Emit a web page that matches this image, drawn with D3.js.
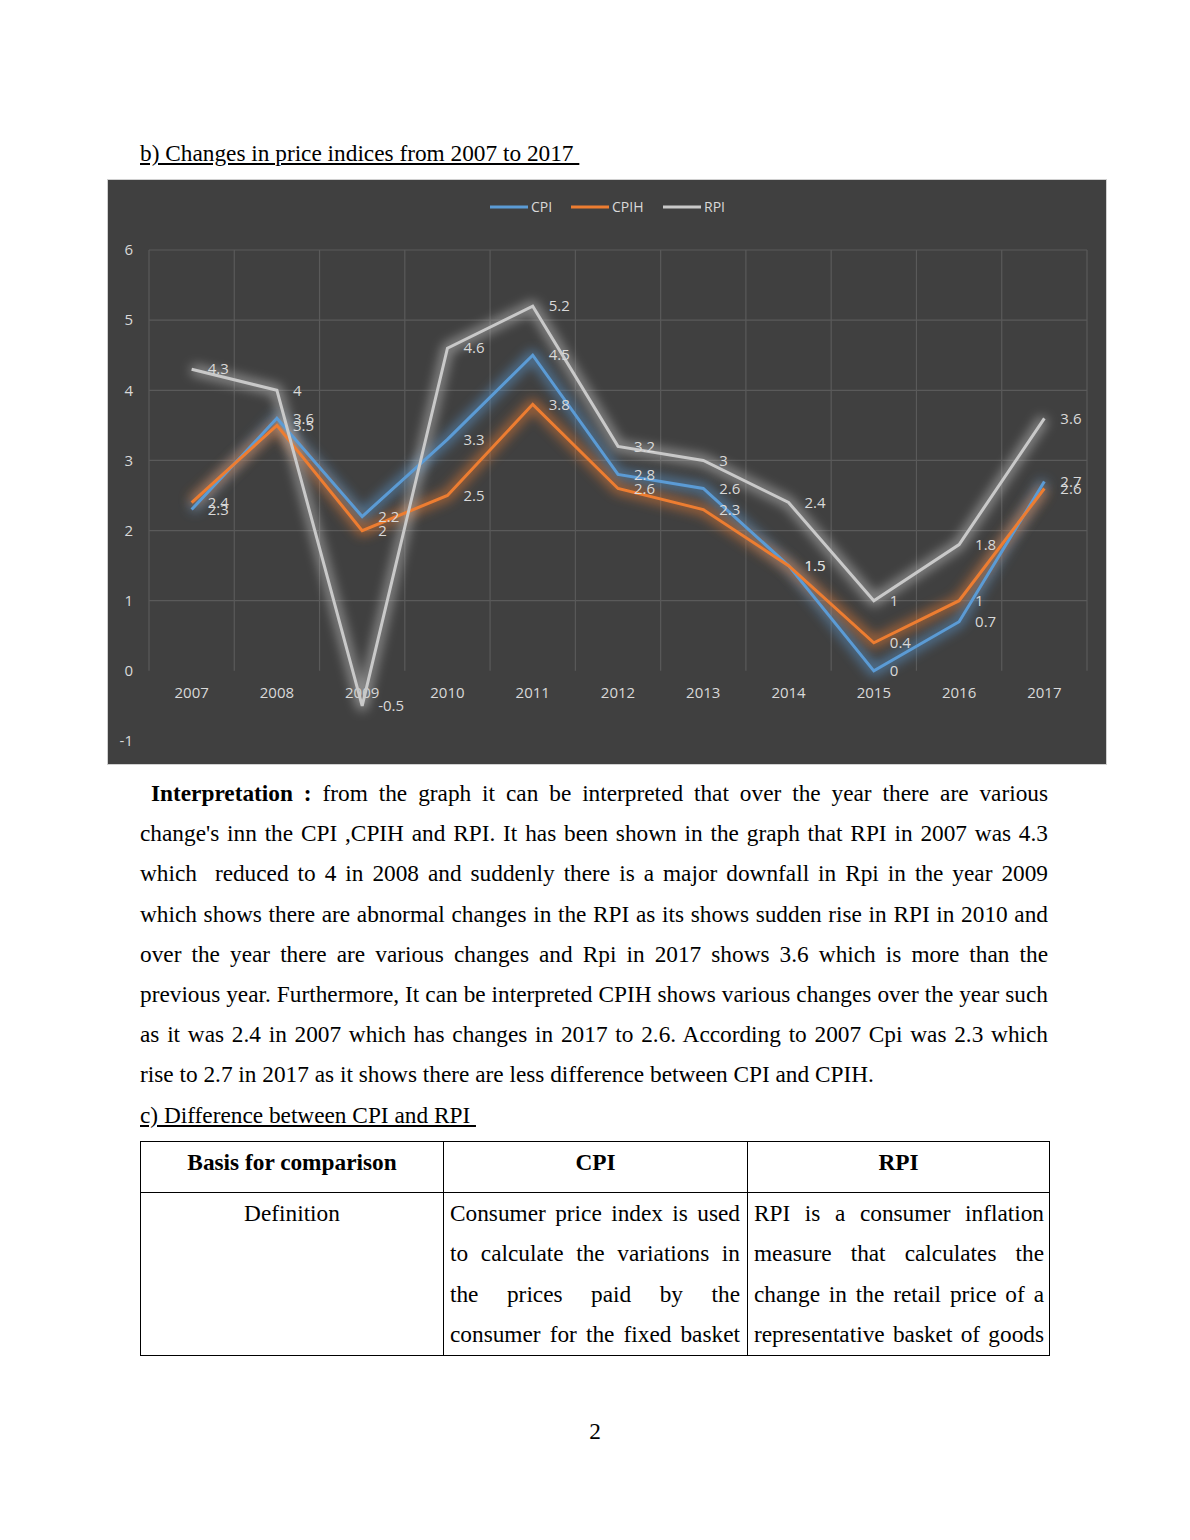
<!DOCTYPE html>
<html>
<head>
<meta charset="utf-8">
<script src="https://cdn.jsdelivr.net/npm/d3@7"></script>
<style>
  body { margin: 0; background: #fff; }
  #page { position: relative; width: 1190px; height: 1540px; font-family: "Liberation Serif", "Times New Roman", serif; color: #000; }
  .heading { position: absolute; left: 140px; font-size: 23.3px; line-height: 26px; text-decoration: underline; white-space: pre; }
  #chart { position: absolute; left: 107px; top: 179px; }
  .para { position: absolute; left: 140px; width: 908px; font-size: 23.3px; }
  .para div { height: 40.2px; line-height: 40.2px; text-align: justify; text-align-last: justify; white-space: pre-wrap; }
  .para div.last { text-align-last: left; }
  table { position: absolute; left: 140px; top: 1141px; width: 906px; table-layout: fixed; border-collapse: collapse; font-size: 23.3px; }
  td, th { border: 1px solid #000; padding: 0; vertical-align: top; overflow: visible; }
  th { height: 50px; line-height: 40px; }
  .cell { width: 290px; margin-left: 6px; }
  .cell div { line-height: 40.4px; height: 40.4px; text-align: justify; text-align-last: justify; white-space: nowrap; }
  #pagenum { position: absolute; left: 0; width: 1190px; top: 1418px; line-height: 26px; text-align: center; font-size: 23.3px; }
</style>
</head>
<body>
<div id="page">
  <div class="heading" style="top:140px;">b) Changes in price indices from 2007 to 2017 </div>
  <svg id="chart"></svg>
  <div class="para" id="para" style="top:773px;"></div>
  <div class="heading" style="top:1102px;">c) Difference between CPI and RPI </div>
  <table id="tbl"></table>
  <div id="pagenum">2</div>
</div>
<script>
// chart values
var years = ["2007", "2008", "2009", "2010", "2011", "2012", "2013", "2014", "2015", "2016", "2017"];
var cpi = [2.3, 3.6, 2.2, 3.3, 4.5, 2.8, 2.6, 1.5, 0, 0.7, 2.7];
var cpih = [2.4, 3.5, 2, 2.5, 3.8, 2.6, 2.3, 1.5, 0.4, 1, 2.6];
var rpi = [4.3, 4, -0.5, 4.6, 5.2, 3.2, 3, 2.4, 1, 1.8, 3.6];
var yTicks = [-1, 0, 1, 2, 3, 4, 5, 6];

var seriesNames = ["CPI", "CPIH", "RPI"];
var seriesColors = ["#5b9bd5", "#ed7d31", "#c9c9c9"];

var width = 1000, height = 586;
var labelFont = "'Open Sans', 'Noto Sans', sans-serif";
var svg = d3.select("#chart").attr("width", width).attr("height", height);

svg.append("rect")
  .attr("x", 0.5).attr("y", 0.5)
  .attr("width", width - 1).attr("height", height - 1)
  .attr("fill", "#404040")
  .attr("stroke", "#d0d0d0");

// soft glow behind each line
var defs = svg.append("defs");
defs.append("filter").attr("id", "glow")
  .attr("x", "-20%").attr("y", "-20%").attr("width", "140%").attr("height", "140%")
  .append("feGaussianBlur").attr("stdDeviation", 6);

var x = d3.scaleBand().domain(years).range([42, 980]);
var y = d3.scaleLinear().domain([-1, 6]).range([562, 71]);
var cx = function (d, i) { return x(years[i]) + x.bandwidth() / 2; };

// gridlines
var grid = svg.append("g").attr("stroke", "#5a5a5a").attr("stroke-width", 1.2);
grid.selectAll("line.h")
  .data(yTicks.filter(function (t) { return t >= 1; }))
  .enter().append("line")
  .attr("x1", 42).attr("x2", 980)
  .attr("y1", function (d) { return y(d); })
  .attr("y2", function (d) { return y(d); });
grid.selectAll("line.v")
  .data(d3.range(years.length + 1))
  .enter().append("line")
  .attr("x1", function (i) { return 42 + i * x.step(); })
  .attr("x2", function (i) { return 42 + i * x.step(); })
  .attr("y1", y(6)).attr("y2", y(0));

// axes
var yAxis = svg.append("g")
  .attr("transform", "translate(26,0)")
  .call(d3.axisLeft(y).tickValues(yTicks).tickSize(0).tickPadding(0)
    .tickFormat(function (d) { return String(d); }));
yAxis.select(".domain").remove();

var xAxis = svg.append("g")
  .attr("transform", "translate(0," + y(0) + ")")
  .call(d3.axisBottom(x).tickSize(0).tickPadding(17));
xAxis.select(".domain").remove();

svg.selectAll(".tick text")
  .attr("fill", "#d9d9d9")
  .style("font-family", labelFont)
  .style("font-size", "15px");

// lines
var series = [cpi, cpih, rpi];
var line = d3.line().x(cx).y(function (d) { return y(d); });

series.forEach(function (vals, k) {
  svg.append("path")
    .datum(vals)
    .attr("d", line)
    .attr("fill", "none")
    .attr("stroke", seriesColors[k])
    .attr("stroke-width", 10)
    .attr("stroke-linejoin", "round")
    .attr("opacity", 0.6)
    .attr("filter", "url(#glow)");
});
series.forEach(function (vals, k) {
  svg.append("path")
    .datum(vals)
    .attr("d", line)
    .attr("fill", "none")
    .attr("stroke", seriesColors[k])
    .attr("stroke-width", 3);
});

// data labels
series.forEach(function (vals) {
  svg.append("g").selectAll("text")
    .data(vals)
    .enter().append("text")
    .attr("x", function (d, i) { return cx(d, i) + 16; })
    .attr("y", function (d) { return y(d); })
    .attr("dy", "0.35em")
    .attr("fill", "#d9d9d9")
    .style("font-family", labelFont)
    .style("font-size", "15px")
    .text(function (d) { return d; });
});

// legend
var legendX = [383, 464, 556];
var legend = svg.append("g").attr("transform", "translate(0,28)");
seriesNames.forEach(function (name, k) {
  legend.append("line")
    .attr("x1", legendX[k]).attr("x2", legendX[k] + 38)
    .attr("stroke", seriesColors[k]).attr("stroke-width", 3);
  legend.append("text")
    .attr("x", legendX[k] + 41).attr("dy", "0.35em")
    .attr("fill", "#d9d9d9")
    .style("font-family", labelFont)
    .style("font-size", "14px")
    .text(name);
});

// interpretation paragraph
var paraLines = [
  "from the graph it can be interpreted that over the year there are various",
  "change's inn the CPI ,CPIH and RPI. It has been shown in the graph that RPI in 2007 was 4.3",
  "which  reduced to 4 in 2008 and suddenly there is a major downfall in Rpi in the year 2009",
  "which shows there are abnormal changes in the RPI as its shows sudden rise in RPI in 2010 and",
  "over the year there are various changes and Rpi in 2017 shows 3.6 which is more than the",
  "previous year. Furthermore, It can be interpreted CPIH shows various changes over the year such",
  "as it was 2.4 in 2007 which has changes in 2017 to 2.6. According to 2007 Cpi was 2.3 which",
  "rise to 2.7 in 2017 as it shows there are less difference between CPI and CPIH."
];
var para = d3.select("#para");
paraLines.forEach(function (t, i) {
  var div = para.append("div").classed("last", i === paraLines.length - 1);
  if (i === 0) {
    div.style("padding-left", "11px");
    div.append("b").text("Interpretation :");
    div.append("span").text(" " + t);
  } else {
    div.text(t);
  }
});

// comparison table
var tblHead = ["Basis for comparison", "CPI", "RPI"];
var cpiDef = ["Consumer price index is used", "to calculate the variations in", "the prices paid by the", "consumer for the fixed basket"];
var rpiDef = ["RPI is a consumer inflation", "measure that calculates the", "change in the retail price of a", "representative basket of goods"];
var colW = [302, 303, 301];

var tbl = d3.select("#tbl");
tbl.append("tr").selectAll("th")
  .data(tblHead).enter().append("th")
  .style("width", function (d, i) { return colW[i] + "px"; })
  .text(function (d) { return d; });

var row = tbl.append("tr").style("height", "158px");
row.append("td").style("text-align", "center").style("line-height", "40px")
  .text("Definition");
[cpiDef, rpiDef].forEach(function (lines) {
  var inner = row.append("td").append("div").attr("class", "cell");
  lines.forEach(function (t) { inner.append("div").text(t); });
});
</script>
</body>
</html>
